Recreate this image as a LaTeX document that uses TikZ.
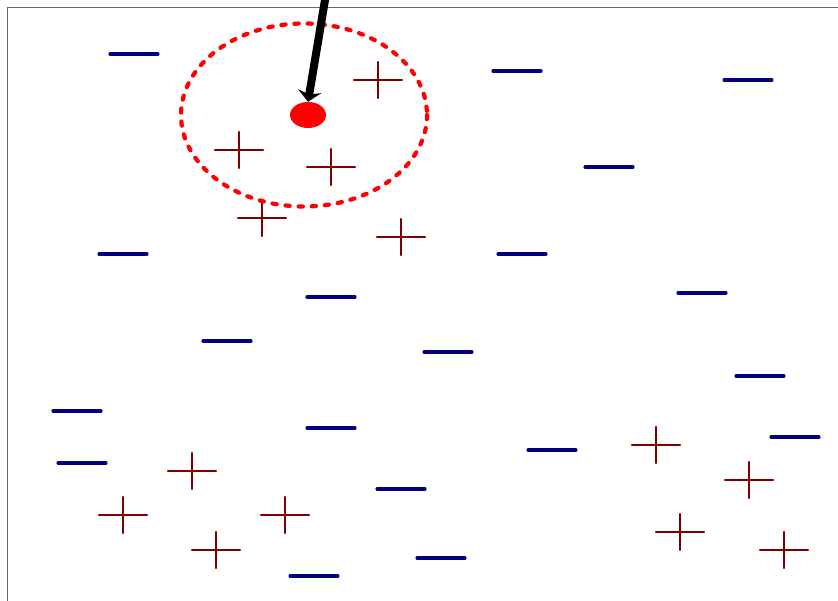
\documentclass[tikz,border=0pt]{standalone}
\usetikzlibrary{arrows.meta,shapes.geometric}
\definecolor{negblue}{RGB}{0,0,128}
\definecolor{posred}{RGB}{128,0,0}
\definecolor{framegray}{RGB}{105,105,105}
\begin{document}
\begin{tikzpicture}[x=0.3mm, y=-0.3mm, line cap=round, line join=round,
    negmark/.style={negblue, line width=2.6pt},
    posmark/.style={posred, line width=2.1pt},
    query/.style={ellipse, fill=red, inner sep=0pt, minimum width=10.8mm, minimum height=7.8mm},
    hood/.style={red, line width=3.6pt, dash pattern=on 3.6pt off 7.6pt},
    pointer/.style={-{Stealth[length=3.2mm, width=7mm, inset=1mm]}, line width=2.4mm}]
  \useasboundingbox (0,0) rectangle (838,600);
  \draw[framegray, line width=0.8pt] (7,605) -- (7,7) -- (845,7);
  % negative samples
  \foreach \x/\y in {134/54, 517/71, 748/80, 609/167, 123/254, 522/254, 331/297, 702/293,
      227/341, 448/352, 760/376, 77/411, 331/428, 82/463, 795/437, 552/450, 401/489,
      441/558, 314/576}
    \draw[negmark] (\x-24,\y) -- (\x+24,\y);
  % positive samples
  \foreach \x/\y in {378/80, 239/150, 331/167, 262/218, 401/237, 192/471, 123/515,
      285/515, 216/550, 656/445, 749/480, 680/532, 784/550}
    \draw[posmark] (\x-24,\y) -- (\x+24,\y) (\x,\y-18) -- (\x,\y+18);
  % query point and its neighbourhood
  \draw[hood] (304,115) ellipse [x radius=123, y radius=91.5];
  \node[query] (q) at (308,115) {};
  \coordinate (src) at (327,-12);
  \draw[pointer] (src) -- (q.north);
\end{tikzpicture}
\end{document}
